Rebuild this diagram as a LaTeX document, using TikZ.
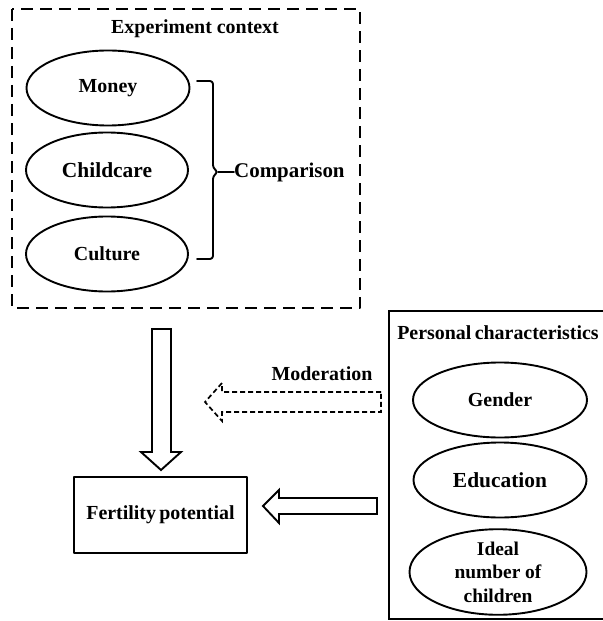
\documentclass[tikz,border=0pt]{standalone}
\usepackage{fontspec}
\setmainfont{Liberation Serif}
\usepackage{tikz}
\usetikzlibrary{arrows,shapes.geometric}

\tikzset{
  lbl/.style={font=\bfseries\fontsize{20}{23.5}\selectfont, inner sep=0pt},
  factor/.style={ellipse, draw, line width=1.9bp, inner sep=0pt, minimum width=165bp, minimum height=75bp, font=\bfseries\fontsize{20}{23.5}\selectfont, align=center},
  bigfactor/.style={factor, font=\bfseries\fontsize{21.5}{24}\selectfont},
  blockarrow/.style={draw, line width=1.9bp, line join=miter, fill=white}
}

\begin{document}
\begin{tikzpicture}[line cap=round,line join=round,x=1bp,y=-1bp]
        \useasboundingbox (0,0) rectangle (603,621);
        % experiment context
        \draw [line width=2.4bp, line cap=butt, dash pattern=on 12bp off 7bp] (12,9) rectangle (360,308);
        \node[lbl] (ctxtitle) at (195,29) {Experiment context};
        \node[factor, minimum width=163bp] (money) at (108,88) {Money};
        \node[bigfactor, minimum width=162bp] (childcare) at (107,170) {Childcare};
        \node[factor, minimum width=162bp] (culture) at (107,254) {Culture};
        \node[lbl, anchor=west, font=\bfseries\fontsize{21}{24}\selectfont] (comparison) at (234,172) {Comparison};
        \draw [line width=1.9bp, rounded corners=3bp] (197,81) -- (213,81) -- (213,168) -- (218,172) -- (213,176) -- (213,259) -- (197,259);
        \draw [line width=1.9bp] (218,172) -- (comparison.west);
        % personal characteristics
        \draw [line width=2.2bp, line join=miter] (606,311) -- (389,311) -- (389,619) -- (606,619);
        \node[lbl] (perstitle) at (498,333) {Personal\,characteristics};
        \node[factor, minimum width=174bp] (gender) at (500,400) {Gender};
        \node[bigfactor, minimum width=173bp] (education) at (500,480) {Education};
        \node[factor, minimum width=177bp, minimum height=77bp, font=\bfseries\fontsize{19.5}{23.5}\selectfont] (ideal) at (498,572) {Ideal\\number of\\children};
        % outcome
        \node[draw, line width=2.1bp, rectangle, minimum width=173bp, minimum height=76bp, lbl] (fertility) at (160.5,515) {Fertility\,potential};
        % block arrows
        \draw [blockarrow] (152,329) -- (171,329) -- (171,452) -- (181,452) -- (161,470) -- (141,452) -- (152,452) -- cycle;
        \draw [blockarrow] (377,498) -- (279,498) -- (279,490) -- (263,506) -- (279,523) -- (279,514) -- (377,514) -- cycle;
        \draw [blockarrow, line width=1.7bp, line cap=butt, dash pattern=on 5bp off 3bp] (381,392) -- (222,392) -- (222,383) -- (205,402) -- (222,421) -- (222,412) -- (381,412) -- cycle;
        \node[lbl] (moderation) at (322,374) {Moderation};
\end{tikzpicture}
\end{document}
